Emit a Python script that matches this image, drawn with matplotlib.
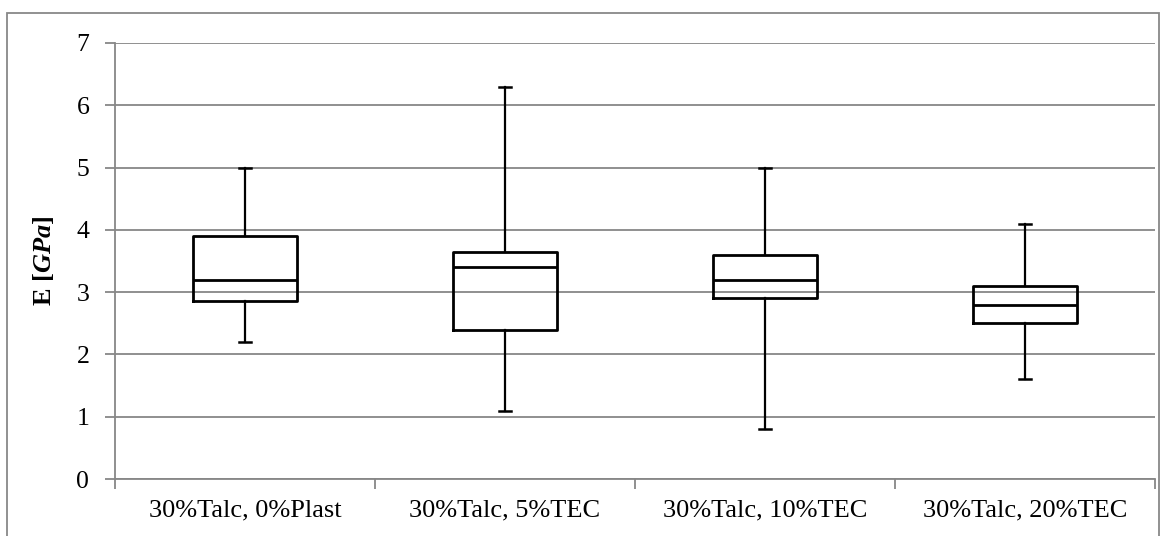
import matplotlib.pyplot as plt
from matplotlib.patches import Rectangle

# box plot summary values (GPa)
groups = ["30%Talc, 0%Plast", "30%Talc, 5%TEC", "30%Talc, 10%TEC", "30%Talc, 20%TEC"]
whisker_low = [2.2, 1.1, 0.8, 1.6]
q1 = [2.85, 2.4, 2.9, 2.5]
median = [3.2, 3.4, 3.2, 2.8]
q3 = [3.9, 3.65, 3.6, 3.1]
whisker_high = [5.0, 6.3, 5.0, 4.1]

plt.rcParams['font.family'] = ['Liberation Serif', 'DejaVu Serif']
plt.rcParams['mathtext.fontset'] = 'custom'
plt.rcParams['mathtext.rm'] = 'Liberation Serif:bold'
plt.rcParams['mathtext.it'] = 'Liberation Serif:bold:italic'

fig = plt.figure(figsize=(11.67, 5.36), dpi=100)
ax = fig.add_axes([0.0985, 0.1063, 0.8912, 0.8135])

stats = []
for i in range(len(groups)):
    stats.append({"whislo": whisker_low[i], "q1": q1[i], "med": median[i],
                  "q3": q3[i], "whishi": whisker_high[i], "fliers": []})

pos = [i + 0.5 for i in range(len(groups))]
ax.bxp(stats, positions=pos, widths=0.4, showfliers=False,
       boxprops=dict(color="black", linewidth=2.0),
       medianprops=dict(color="black", linewidth=2.0),
       whiskerprops=dict(color="black", linewidth=1.6),
       capprops=dict(color="black", linewidth=1.8),
       capwidths=0.045)

grid_col = "#878787"
ax.set_xlim(0, len(groups))
ax.set_ylim(0, 7)
ax.set_yticks(range(0, 8))
ax.yaxis.grid(True, color=grid_col, linewidth=1.3)
ax.set_axisbelow(True)

ax.set_xticks(range(0, len(groups) + 1))
ax.set_xticklabels([])
ax.set_xticks(pos, minor=True)
ax.set_xticklabels(groups, minor=True)
ax.tick_params(axis="x", which="minor", length=0, pad=15, labelsize=19)
ax.tick_params(axis="x", which="major", length=7, color=grid_col, width=1.3)
ax.tick_params(axis="y", length=7, color=grid_col, width=1.3, pad=11.5, labelsize=18.5)

for s in ["top", "right"]:
    ax.spines[s].set_visible(False)
for s in ["left", "bottom"]:
    ax.spines[s].set_color(grid_col)
    ax.spines[s].set_linewidth(1.3)

ax.set_ylabel(r"$\mathrm{E\ [}\mathit{GPa}\mathrm{]}$", fontsize=19)
ax.yaxis.set_label_coords(-0.057, 0.5)

# outer chart frame
fig.patches.append(Rectangle((7 / 1167, -0.01), 1152 / 1167, 1 - 13 / 536 + 0.01,
                             transform=fig.transFigure, fill=False,
                             edgecolor="#888888", linewidth=1.3))

fig.savefig("out.png", dpi=100)
